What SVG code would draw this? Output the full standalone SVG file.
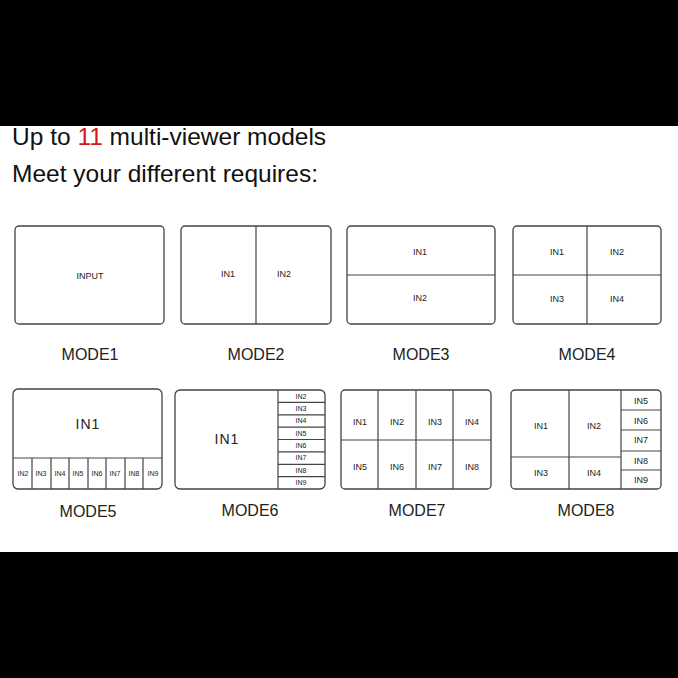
<svg xmlns="http://www.w3.org/2000/svg" width="678" height="678" viewBox="0 0 678 678">
<style>
.b{fill:#fff;stroke:#444;stroke-width:1.3}
.l{stroke:#444;stroke-width:1.2;fill:none}
.t{font-family:"Liberation Sans",Arial,sans-serif;fill:#222;text-anchor:middle}
.s{font-size:9px}
.xs{font-size:7px}
.m{font-size:16px}
.big{font-size:14px;letter-spacing:1px}
</style>
<rect width="678" height="678" fill="#fff"/>
<rect width="678" height="126" fill="#000"/>
<rect y="552" width="678" height="126" fill="#000"/>
<text x="12" y="145" font-family="Liberation Sans,Arial,sans-serif" font-size="24.5" fill="#111">Up to <tspan fill="#d0181c">11</tspan> multi-viewer models</text>
<text x="12" y="182" font-family="Liberation Sans,Arial,sans-serif" font-size="24.5" fill="#111">Meet your different requires:</text>
<g id="mode1"><rect class="b" x="15" y="226" width="149" height="98" rx="4"/><text class="t s" x="90" y="279">INPUT</text><text class="t m" x="90" y="360">MODE1</text></g>
<g id="mode2"><rect class="b" x="181" y="226" width="150" height="98" rx="4"/><path class="l" d="M256 226V324"/><text class="t s" x="228" y="277">IN1</text><text class="t s" x="284" y="277">IN2</text><text class="t m" x="256" y="360">MODE2</text></g>
<g id="mode3"><rect class="b" x="347" y="226" width="148" height="98" rx="4"/><path class="l" d="M347 275H495"/><text class="t s" x="420" y="255">IN1</text><text class="t s" x="420" y="301">IN2</text><text class="t m" x="421" y="360">MODE3</text></g>
<g id="mode4"><rect class="b" x="513" y="226" width="148" height="98" rx="4"/><path class="l" d="M587 226V324M513 275H661"/><text class="t s" x="557" y="255">IN1</text><text class="t s" x="617" y="255">IN2</text><text class="t s" x="557" y="302">IN3</text><text class="t s" x="617" y="302">IN4</text><text class="t m" x="587" y="360">MODE4</text></g>
<g id="mode5"><rect class="b" x="13" y="389" width="149" height="100" rx="5"/><path class="l" d="M13 458H162M32 458V489M51 458V489M69 458V489M88 458V489M106 458V489M125 458V489M143 458V489"/><text class="t big" x="88" y="429">IN1</text>
<g class="t xs"><text x="23" y="476">IN2</text><text x="41" y="476">IN3</text><text x="60" y="476">IN4</text><text x="78" y="476">IN5</text><text x="97" y="476">IN6</text><text x="115" y="476">IN7</text><text x="134" y="476">IN8</text><text x="153" y="476">IN9</text></g><text class="t m" x="88" y="517">MODE5</text></g>
<g id="mode6"><rect class="b" x="175" y="390" width="150" height="99" rx="5"/><path class="l" d="M278 390V489M278 402.4H325M278 414.8H325M278 427.1H325M278 439.5H325M278 451.9H325M278 464.3H325M278 476.6H325"/><text class="t big" x="227" y="444">IN1</text>
<g class="t xs"><text x="301" y="399">IN2</text><text x="301" y="411">IN3</text><text x="301" y="423">IN4</text><text x="301" y="436">IN5</text><text x="301" y="448">IN6</text><text x="301" y="460">IN7</text><text x="301" y="473">IN8</text><text x="301" y="485">IN9</text></g><text class="t m" x="250" y="516">MODE6</text></g>
<g id="mode7"><rect class="b" x="341" y="390" width="150" height="99" rx="4"/><path class="l" d="M378 390V489M416 390V489M453 390V489M341 440H491"/>
<g class="t s"><text x="360" y="425">IN1</text><text x="397" y="425">IN2</text><text x="435" y="425">IN3</text><text x="472" y="425">IN4</text><text x="360" y="470">IN5</text><text x="397" y="470">IN6</text><text x="435" y="470">IN7</text><text x="472" y="470">IN8</text></g><text class="t m" x="417" y="516">MODE7</text></g>
<g id="mode8"><rect class="b" x="511" y="390" width="150" height="99" rx="4"/><path class="l" d="M569 390V489M621 390V489M511 457H621M621 410H661M621 430H661M621 451H661M621 470H661"/>
<g class="t s"><text x="541" y="429">IN1</text><text x="594" y="429">IN2</text><text x="541" y="476">IN3</text><text x="594" y="476">IN4</text><text x="641" y="404">IN5</text><text x="641" y="424">IN6</text><text x="641" y="443">IN7</text><text x="641" y="464">IN8</text><text x="641" y="483">IN9</text></g><text class="t m" x="586" y="516">MODE8</text></g>
</svg>
